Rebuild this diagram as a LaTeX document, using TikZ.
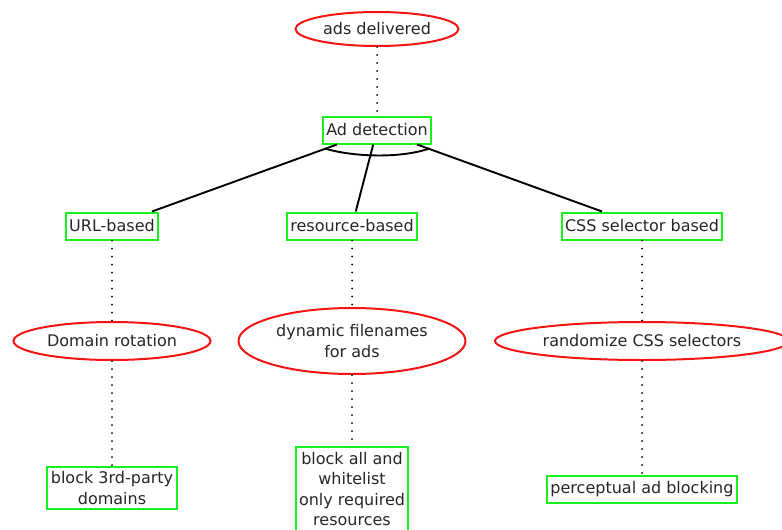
\documentclass[tikz,border=0pt]{standalone}
\usepackage{fontspec}
\setmainfont{DejaVu Sans}
\usetikzlibrary{calc,shapes.geometric}
\definecolor{defgreen}{RGB}{25,240,25}
\definecolor{atkred}{RGB}{245,20,20}
\tikzset{
  defbox/.style={draw=defgreen, line width=2pt, align=center, minimum height=27pt, inner xsep=3.5pt, inner ysep=5pt, text=black!85, font=\fontsize{16}{20.5}\selectfont},
  atkell/.style={draw=atkred, ellipse, line width=2pt, align=center, inner sep=0pt, text=black!85, font=\fontsize{16}{20.5}\selectfont},
  treeline/.style={line width=1.9pt, draw=black},
  dotline/.style={line width=2pt, line cap=round, dash pattern=on 0pt off 8pt, draw=black},
}

\begin{document}
\begin{tikzpicture}[x=1pt, y=-1pt]
    \useasboundingbox (0,0) rectangle (782,530);
    \node[atkell, minimum width=163pt, minimum height=34pt] (ads) at (377,29) {ads delivered};
    \node[defbox] (det) at (377,130) {Ad detection};
    \node[defbox] (url) at (112,226) {URL-based};
    \node[defbox] (res) at (352,226) {resource-based};
    \node[defbox] (css) at (642,226) {CSS selector based};
    \node[atkell, minimum width=197pt, minimum height=38pt] (rot) at (112,341) {Domain rotation};
    \node[atkell, minimum width=227pt, minimum height=66pt] (dyn) at (352,341) {dynamic filenames\\for ads};
    \node[atkell, minimum width=294pt, minimum height=38pt] (rnd) at (642,341) {randomize CSS selectors};
    \node[defbox] (blk3) at (112,488) {block 3rd-party\\domains};
    \node[defbox] (blkall) at (352,489) {block all and\\whitelist\\only required\\resources};
    \node[defbox] (percep) at (642,489) {perceptual ad blocking};
    % refinement into the three detection methods
    \draw[treeline] (det) -- (url);
    \draw[treeline] (det) -- (res);
    \draw[treeline] (det) -- (css);
    \coordinate (andL) at ($(det.center)!0.195!(url.center)$);
    \coordinate (andR) at ($(det.center)!0.195!(css.center)$);
    \draw[treeline] (andL) .. controls +(30,8.5) and +(-28,9.5) .. (andR);
    % attacks and countermeasures
    \draw[dotline] (ads) -- (det);
    \draw[dotline] (url) -- (rot);
    \draw[dotline] (rot) -- (blk3);
    \draw[dotline] (res) -- (dyn);
    \draw[dotline] (dyn) -- (blkall);
    \draw[dotline] (css) -- (rnd);
    \draw[dotline] (rnd) -- (percep);
\end{tikzpicture}
\end{document}
